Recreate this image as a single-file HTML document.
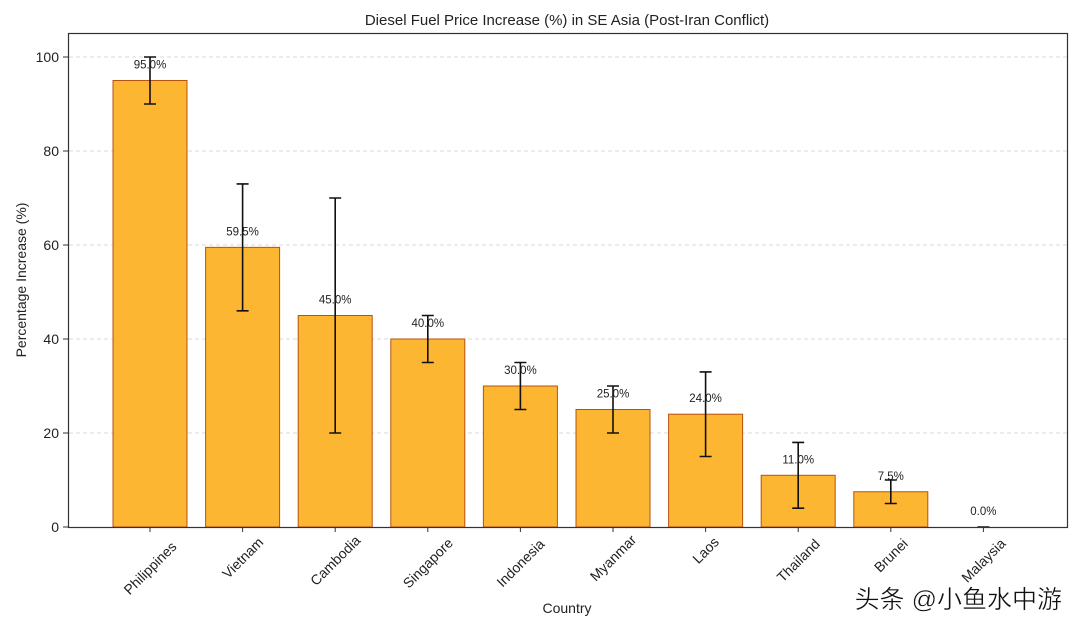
<!DOCTYPE html>
<html><head><meta charset="utf-8">
<style>
body{margin:0;background:#fff;}
svg{display:block;font-family:"Liberation Sans","Noto Sans CJK SC",sans-serif;}
</style></head>
<body>
<svg id="chart" width="1080" height="630" viewBox="0 0 1080 630">
<rect width="1080" height="630" fill="#fff"/>
<text x="567" y="25" text-anchor="middle" font-size="15" fill="#222">Diesel Fuel Price Increase (%) in SE Asia (Post-Iran Conflict)</text>
<g id="grid"></g>
<g id="bars"></g>
<g id="yticks"></g>
<g id="xticks"></g>
<rect x="68.5" y="33.5" width="999" height="494" fill="none" stroke="#333" stroke-width="1.2"/>
<text x="567" y="613" text-anchor="middle" font-size="14" fill="#222">Country</text>
<text transform="translate(26,280) rotate(-90)" text-anchor="middle" font-size="14" fill="#222">Percentage Increase (%)</text>
<text x="1062" y="608" text-anchor="end" font-size="25" fill="#111" stroke="#fff" stroke-width="0.4">头条 @小鱼水中游</text>
</svg>
<script>
const categories=["Philippines","Vietnam","Cambodia","Singapore","Indonesia","Myanmar","Laos","Thailand","Brunei","Malaysia"];
const values=[95,59.5,45,40,30,25,24,11,7.5,0];
const errLow=[90,46,20,35,25,20,15,4,5,0];
const errHigh=[100,73,70,45,35,30,33,18,10,0];
const yTicks=[0,20,40,60,80,100];
const NS="http://www.w3.org/2000/svg";
const x0=150,step=92.6,bw=74;
function xs(i){return x0+i*step;}
function ys(v){return 527-v*4.7;}
function mk(tag,attrs,parent,text){const e=document.createElementNS(NS,tag);for(const k in attrs)e.setAttribute(k,attrs[k]);if(text!==undefined)e.textContent=text;document.getElementById(parent).appendChild(e);return e;}
yTicks.forEach(t=>{
  if(t>0){const g=mk("line",{x1:69,x2:1067,y1:ys(t),y2:ys(t),stroke:"#ccc","stroke-dasharray":"4,3","stroke-width":0.8},"grid");
  
  }
  const tk=mk("line",{x1:63,x2:68,y1:ys(t),y2:ys(t),stroke:"#333"},"yticks");
  
  
  const l=mk("text",{x:59,y:ys(t)+5,"text-anchor":"end","font-size":14,fill:"#222"},"yticks",t);
  
  
});
categories.forEach((c,i)=>{
  const cx=xs(i);
  const b=mk("rect",{x:cx-bw/2,y:ys(values[i]),width:bw,height:values[i]*4.7,fill:"#fdb632",stroke:"#b8520f","stroke-width":1},"bars");
  
  
  const lo=ys(errLow[i]),hi=ys(errHigh[i]);
  const e=mk("path",{d:`M${cx},${lo}V${hi}M${cx-6},${lo}H${cx+6}M${cx-6},${hi}H${cx+6}`,stroke:"#111","stroke-width":1.6,fill:"none"},"bars");
  
  
  const v=mk("text",{x:cx,y:ys(values[i])-12,"text-anchor":"middle","font-size":11.5,fill:"#222"},"bars",values[i].toFixed(1)+"%");
  
  
  const tk=mk("line",{x1:cx,x2:cx,y1:527,y2:532,stroke:"#333"},"xticks");
  
  
  const half=c.length*3.6*0.707;
  const t=mk("text",{transform:`translate(${cx},${540+half}) rotate(-45)`,"text-anchor":"middle",dy:"5","font-size":14,fill:"#222"},"xticks",c);
  
  
});
</script>
</body></html>
